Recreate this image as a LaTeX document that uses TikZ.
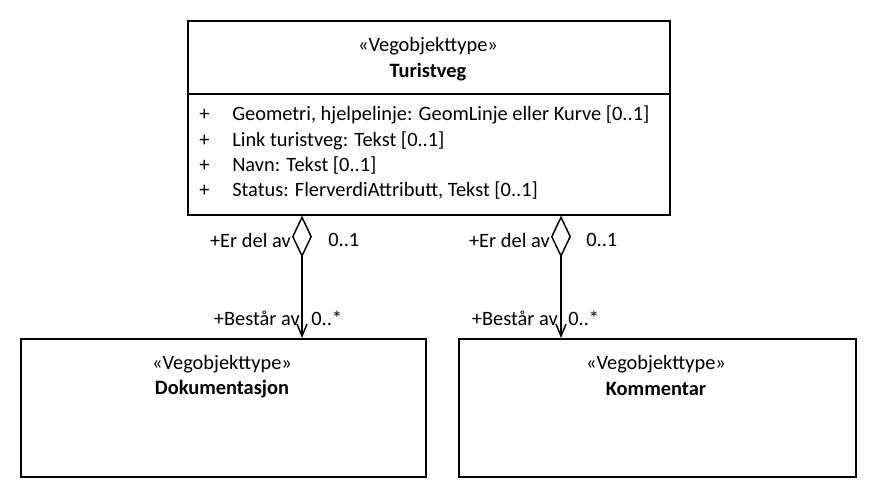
\documentclass[tikz,border=0pt]{standalone}
\usepackage{fontspec}
\setmainfont{Carlito}
\usetikzlibrary{calc}
\usetikzlibrary{arrows.meta}
\usetikzlibrary{positioning}

\begin{document}
\begin{tikzpicture}[x=0.75pt,y=-0.75pt,font=\fontsize{15.3}{18}\selectfont,inner sep=0pt,
    klasse/.style={draw,line width=1.2pt,rectangle,anchor=north west,inner sep=0pt},
    agg/.style={line width=1.1pt,{Diamond[open,length=31.5pt,width=15pt]}-{Straight Barb[length=9pt,width=7.5pt]}}]
                    \useasboundingbox (0,0) rectangle (876,498);
                    \node[klasse,minimum width=361.5pt,minimum height=145.5pt] (turistveg) at (187,20) {};
                    \draw[line width=1.2pt] (turistveg.west |- 0,94) -- (turistveg.east |- 0,94);
                    \node (stereo1) at (428,46) {«Vegobjekttype»};
                    \node (navn1) at (428,72) {\bfseries Turistveg};
                    \node[anchor=west] (p1) at (199,115) {+};
                    \node[anchor=west] (p2) at (199,141) {+};
                    \node[anchor=west] (p3) at (199,166) {+};
                    \node[anchor=west] (p4) at (199,191) {+};
                    \node[anchor=west] (a1) at (232,115) {Geometri, hjelpelinje: GeomLinje eller Kurve [0..1]};
                    \node[anchor=west] (a2) at (232,141) {Link turistveg: Tekst [0..1]};
                    \node[anchor=west] (a3) at (232,166) {Navn: Tekst [0..1]};
                    \node[anchor=west] (a4) at (232,191) {Status: FlerverdiAttributt, Tekst [0..1]};
                    \node[klasse,minimum width=303.75pt,minimum height=103.5pt] (dok) at (20,338) {};
                    \node (stereo2) at (222,364) {«Vegobjekttype»};
                    \node (navn2) at (222,389) {\bfseries Dokumentasjon};
                    \node[klasse,minimum width=297.75pt,minimum height=103.5pt] (komm) at (458,338) {};
                    \node (stereo3) at (656,364) {«Vegobjekttype»};
                    \node (navn3) at (656,389) {\bfseries Kommentar};
                    \draw[agg] (turistveg.south -| 302,0) -- (dok.north -| 302,0);
                    \draw[agg] (turistveg.south -| 561,0) -- (komm.north -| 561,0);
                    \node[anchor=east] (r1) at (291,240) {+Er del av};
                    \node[anchor=west] (m1) at (328,240) {0..1};
                    \node[anchor=east] (r2) at (300,318) {+Består av};
                    \node[anchor=west] (m2) at (311,318) {0..*};
                    \node[anchor=east] (r3) at (550,240) {+Er del av};
                    \node[anchor=west] (m3) at (586,240) {0..1};
                    \node[anchor=east] (r4) at (558,318) {+Består av};
                    \node[anchor=west] (m4) at (568,318) {0..*};
               \end{tikzpicture}
\end{document}
